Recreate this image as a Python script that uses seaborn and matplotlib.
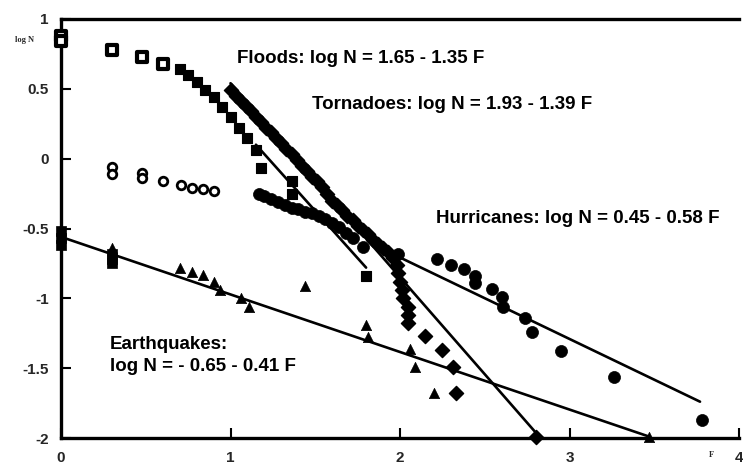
import matplotlib
matplotlib.use("Agg")
import matplotlib.pyplot as plt
import seaborn as sns

# --- Floods (squares) ---
flood_open_x = [0.0, 0.0, 0.30, 0.48, 0.60]
flood_open_y = [0.88, 0.84, 0.78, 0.73, 0.68]
flood_x = [0.70, 0.75, 0.80, 0.85, 0.90, 0.95, 1.00, 1.05, 1.10, 1.15, 1.18, 1.36, 1.36, 1.80]
flood_y = [0.64, 0.60, 0.55, 0.49, 0.44, 0.37, 0.30, 0.22, 0.15, 0.06, -0.07, -0.16, -0.25, -0.84]

# --- Tornadoes (diamonds) ---
tornado_x = [1.00, 1.03, 1.06, 1.09, 1.12, 1.15, 1.18, 1.21, 1.24, 1.27, 1.30, 1.33,
             1.36, 1.39, 1.42, 1.45, 1.48, 1.51, 1.54, 1.57, 1.60, 1.63, 1.66, 1.69,
             1.72, 1.75, 1.78, 1.81, 1.84, 1.87, 1.90, 1.93, 1.96, 1.98, 1.99, 2.00,
             2.01, 2.02, 2.05, 2.05, 2.05, 2.15, 2.25, 2.31, 2.33, 2.80]
tornado_y = [0.49, 0.45, 0.41, 0.38, 0.34, 0.30, 0.26, 0.22, 0.19, 0.15, 0.11, 0.07,
             0.03, -0.01, -0.05, -0.09, -0.13, -0.16, -0.20, -0.25, -0.30, -0.33, -0.37,
             -0.41, -0.44, -0.48, -0.51, -0.54, -0.58, -0.61, -0.64, -0.67, -0.71, -0.76,
             -0.82, -0.88, -0.94, -1.00, -1.06, -1.12, -1.18, -1.27, -1.37, -1.49, -1.68, -1.99]

# --- Hurricanes (circles) ---
hurr_open_x = [0.30, 0.30, 0.48, 0.48, 0.60, 0.71, 0.77, 0.84, 0.90]
hurr_open_y = [-0.06, -0.11, -0.10, -0.14, -0.16, -0.19, -0.21, -0.22, -0.23]
hurr_x = [1.17, 1.20, 1.24, 1.28, 1.32, 1.36, 1.40, 1.44, 1.48, 1.52, 1.56, 1.60,
          1.64, 1.68, 1.72, 1.78, 1.99, 2.22, 2.30, 2.38, 2.44, 2.44, 2.54, 2.60,
          2.61, 2.74, 2.78, 2.95, 3.26, 3.78]
hurr_y = [-0.25, -0.27, -0.29, -0.31, -0.33, -0.35, -0.36, -0.38, -0.39, -0.41, -0.43,
          -0.46, -0.49, -0.53, -0.57, -0.63, -0.68, -0.72, -0.76, -0.79, -0.84, -0.89,
          -0.93, -0.99, -1.06, -1.14, -1.24, -1.38, -1.56, -1.87]

# --- Earthquakes (squares at low F, triangles) ---
quake_sq_x = [0.0, 0.0, 0.0, 0.30, 0.30, 0.30]
quake_sq_y = [-0.52, -0.57, -0.62, -0.68, -0.72, -0.75]
quake_x = [0.30, 0.70, 0.77, 0.84, 0.90, 0.94, 1.06, 1.11, 1.44, 1.80, 1.81, 2.06, 2.09, 2.20, 3.47]
quake_y = [-0.64, -0.78, -0.81, -0.83, -0.88, -0.94, -1.00, -1.06, -0.91, -1.19, -1.28,
           -1.36, -1.49, -1.68, -1.99]

# --- Fitted lines (end points) ---
flood_fit_x, flood_fit_y = [1.15, 1.80], [0.10, -0.78]
tornado_fit_x, tornado_fit_y = [1.00, 2.80], [0.54, -1.96]
hurr_fit_x, hurr_fit_y = [1.97, 3.77], [-0.69, -1.74]
quake_fit_x, quake_fit_y = [0.00, 3.47], [-0.56, -1.99]

x_ticks = [0, 1, 2, 3, 4]
y_ticks = [-2, -1.5, -1, -0.5, 0, 0.5, 1]
y_tick_labels = ["-2", "-1.5", "-1", "-0.5", "0", "0.5", "1"]

sns.set_style("ticks")
plt.rcParams["font.family"] = ["Liberation Sans", "DejaVu Sans"]
plt.rcParams["axes.unicode_minus"] = False

fig = plt.figure(figsize=(7.43, 4.68), dpi=100)
ax = fig.add_axes([61 / 743, 30 / 468, (739 - 61) / 743, (438 - 19) / 468])

lw_fit = 1.9
for fx, fy in [(flood_fit_x, flood_fit_y), (tornado_fit_x, tornado_fit_y),
               (hurr_fit_x, hurr_fit_y), (quake_fit_x, quake_fit_y)]:
    sns.lineplot(x=fx, y=fy, ax=ax, color="black", linewidth=lw_fit,
                 estimator=None, sort=False, legend=False)

pts = dict(ax=ax, zorder=3, clip_on=False)
# floods
sns.scatterplot(x=flood_open_x, y=flood_open_y, marker="s", s=62,
                facecolor="white", edgecolor="black", linewidth=3.0, **pts)
sns.scatterplot(x=flood_x, y=flood_y, marker="s", s=62,
                color="black", edgecolor="black", linewidth=0.8, **pts)
# tornadoes
sns.scatterplot(x=tornado_x, y=tornado_y, marker="D", s=52,
                color="black", edgecolor="black", linewidth=1.0, **pts)
# hurricanes
sns.scatterplot(x=hurr_open_x, y=hurr_open_y, marker="o", s=38,
                facecolor="white", edgecolor="black", linewidth=2.0, **pts)
sns.scatterplot(x=hurr_x, y=hurr_y, marker="o", s=75,
                color="black", edgecolor="black", linewidth=0.5, **pts)
# earthquakes
sns.scatterplot(x=quake_sq_x, y=quake_sq_y, marker="s", s=58,
                color="black", edgecolor="black", linewidth=0.5, **pts)
sns.scatterplot(x=quake_x, y=quake_y, marker="^", s=55,
                color="black", edgecolor="black", linewidth=0.5, **pts)

ax.set_xlim(0, 4)
ax.set_ylim(-2, 1)
ax.set_xticks(x_ticks)
ax.set_xticklabels([str(t) for t in x_ticks])
ax.set_yticks(y_ticks)
ax.set_yticklabels(y_tick_labels)
ax.tick_params(axis="both", direction="in", width=1.5, length=7, color="black",
               labelsize=11, pad=9)
for lab in ax.get_xticklabels() + ax.get_yticklabels():
    lab.set_fontweight("bold")

for side in ["left", "bottom", "top"]:
    ax.spines[side].set_linewidth(2.4)
    ax.spines[side].set_color("black")
ax.spines["right"].set_visible(False)
ax.set_xlabel("")
ax.set_ylabel("")

tkw = dict(fontsize=13.5, fontweight="bold", ha="left", va="center", color="black")
ax.text(1.04, 0.72, "Floods: log N = 1.65 - 1.35 F", **tkw)
ax.text(1.48, 0.39, "Tornadoes: log N = 1.93 - 1.39 F", **tkw)
ax.text(2.21, -0.43, "Hurricanes: log N = 0.45 - 0.58 F", **tkw)
ax.text(0.29, -1.33, "Earthquakes:", **tkw)
ax.text(0.29, -1.49, "log N = - 0.65 - 0.41 F", **tkw)

fig.text(25 / 743, 1 - 40 / 468, "log N", fontsize=6, family="Liberation Serif",
         fontweight="bold", ha="center", va="center")
fig.text(711 / 743, 1 - 455 / 468, "F", fontsize=6, family="Liberation Serif",
         fontweight="bold", ha="center", va="center")

fig.savefig("out.png", dpi=100)
